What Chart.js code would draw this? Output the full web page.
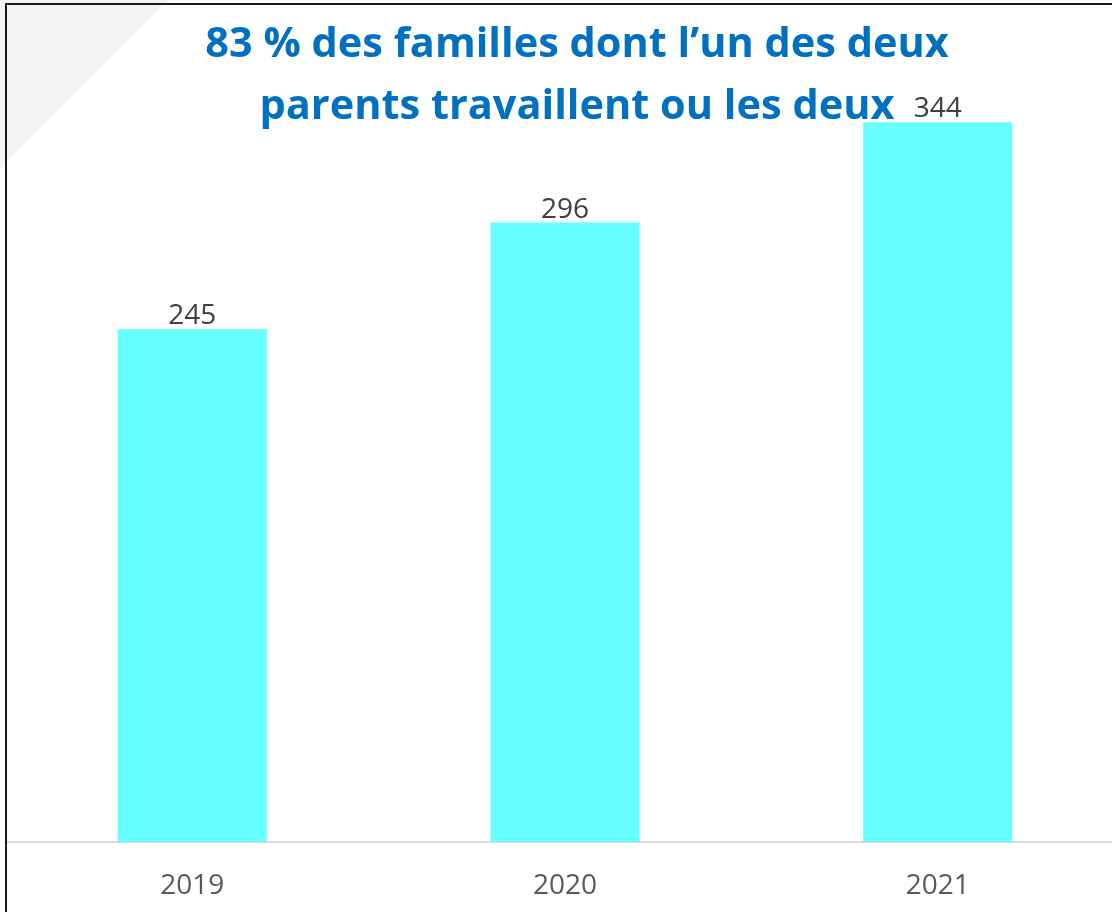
<!DOCTYPE html>
<html>
<head>
<meta charset="utf-8">
<script src="https://cdn.jsdelivr.net/npm/chart.js@4.4.0/dist/chart.umd.min.js"></script>
<style>
  html, body { margin: 0; padding: 0; background: #ffffff; }
  #wrap { position: relative; width: 1112px; height: 912px; overflow: hidden; background: #ffffff; }
  #cv { position: absolute; left: 0; top: 0; }
  #title {
    position: absolute; left: 40px; top: 10px; width: 1074px;
    text-align: center; font-family: "Open Sans", sans-serif; font-weight: 700;
    font-size: 41.5px; line-height: 62px; color: #0070C0; pointer-events: none;
  }
</style>
</head>
<body>
<div id="wrap">
  <canvas id="cv" width="1124" height="912"></canvas>
  <div id="title">83 % des familles dont l’un des deux<br>parents travaillent ou les deux</div>
</div>
<script>
const categories = ["2019", "2020", "2021"];
const familles = [245, 296, 344];
const yMax = 400;

const frame = {
  id: 'frame',
  beforeDraw(chart) {
    const ctx = chart.ctx;
    ctx.save();
    ctx.fillStyle = '#f4f4f4';
    ctx.beginPath();
    ctx.moveTo(0, 0); ctx.lineTo(168, 0); ctx.lineTo(0, 168); ctx.closePath();
    ctx.fill();
    ctx.restore();
  },
  afterDraw(chart) {
    const ctx = chart.ctx;
    ctx.save();
    ctx.strokeStyle = '#1a1a1a';
    ctx.lineWidth = 2;
    ctx.beginPath();
    ctx.moveTo(6, 912); ctx.lineTo(6, 4); ctx.lineTo(1124, 4);
    ctx.stroke();
    ctx.restore();
  }
};

const valueLabels = {
  id: 'valueLabels',
  afterDatasetsDraw(chart) {
    const ctx = chart.ctx;
    const meta = chart.getDatasetMeta(0);
    ctx.save();
    ctx.font = '28px "Open Sans", sans-serif';
    ctx.fillStyle = '#404040';
    ctx.textAlign = 'center';
    ctx.textBaseline = 'bottom';
    meta.data.forEach((bar, i) => {
      ctx.fillText(String(chart.data.datasets[0].data[i]), bar.x, bar.y + 1);
    });
    ctx.restore();
  }
};

new Chart(document.getElementById('cv'), {
  type: 'bar',
  data: {
    labels: categories,
    datasets: [{
      data: familles,
      backgroundColor: '#66FFFF',
      borderWidth: 0,
      barPercentage: 0.5,
      categoryPercentage: 0.8
    }]
  },
  options: {
    responsive: false,
    animation: false,
    layout: { padding: { left: 6, right: 0, top: 5, bottom: 0 } },
    plugins: { legend: { display: false }, tooltip: { enabled: false }, title: { display: false } },
    scales: {
      y: { display: false, min: 0, max: yMax },
      x: {
        grid: { display: false, drawTicks: false },
        border: { display: true, color: '#d9d9d9', width: 2 },
        ticks: { color: '#595959', font: { family: 'Open Sans', size: 28 }, padding: 27 },
        afterFit(scale) { scale.height = 70; }
      }
    }
  },
  plugins: [frame, valueLabels]
});
</script>
</body>
</html>
